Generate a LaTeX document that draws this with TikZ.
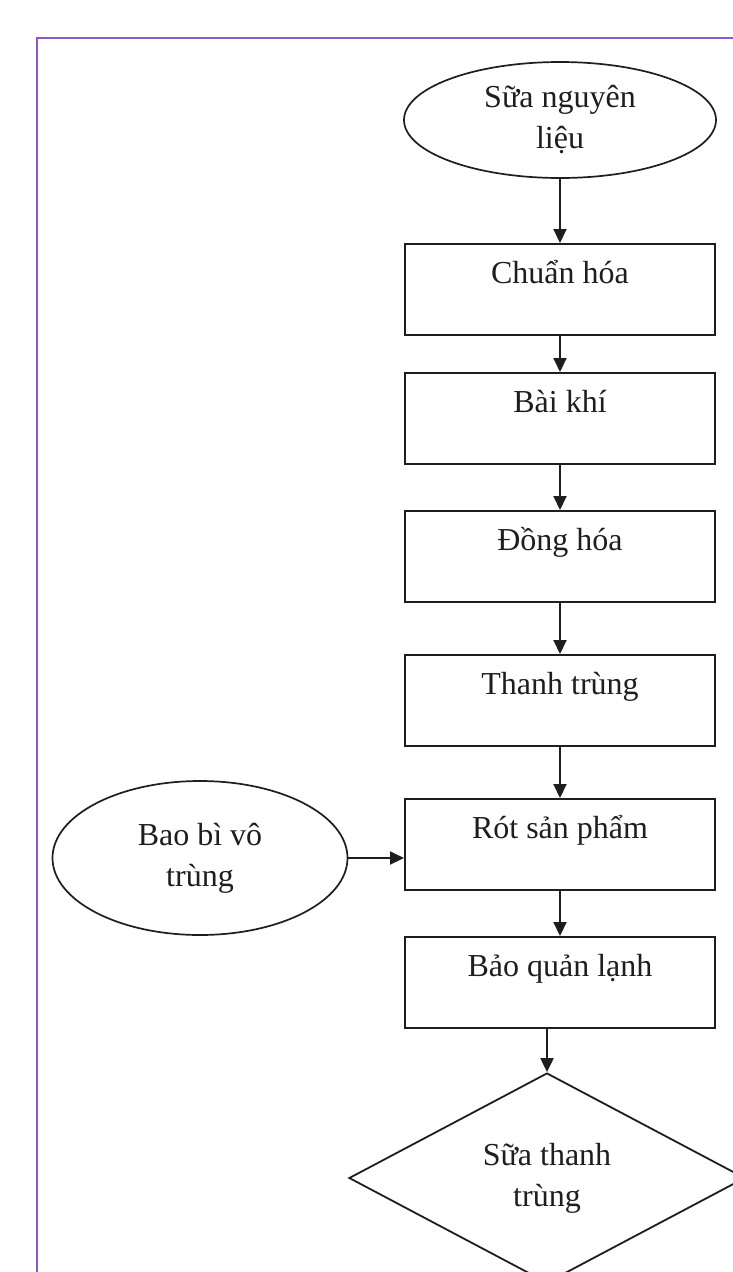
\documentclass[tikz,border=0pt]{standalone}
\usepackage{fontspec}
\setmainfont{Liberation Serif}
\usetikzlibrary{shapes.geometric,arrows.meta}
\definecolor{frame}{RGB}{145,85,205}
\definecolor{ink}{RGB}{30,30,30}
\tikzset{
  every node/.style={font=\fontsize{32}{41}\selectfont, text=ink},
  stepbox/.style={draw=ink, line width=2pt, rectangle, minimum width=310pt,
    text height=39pt, text depth=52pt, inner ysep=0pt, anchor=north},
  oval/.style={draw=ink, line width=1.7pt, ellipse, align=center, inner sep=0pt},
  flow/.style={draw=ink, line width=2pt, -{Triangle[length=14pt,width=13pt]}},
}
\begin{document}
\begin{tikzpicture}[x=1pt,y=-1pt]
\useasboundingbox (0,0) rectangle (733,1272);
\clip (0,0) rectangle (733,1272);
\fill[white] (0,0) rectangle (733,1272);
% frame
\coordinate (fb) at (37,1272);
\coordinate (fc) at (37,38);
\coordinate (fr) at (733,38);
\draw[frame, line width=2.4pt] (fb) -- (fc) -- (fr);
% nodes
\node[oval, minimum width=312pt, minimum height=116pt] (e1) at (560,120) {Sữa nguyên\\liệu};
\node[stepbox] (b1) at (560,243) {Chuẩn hóa};
\node[stepbox] (b2) at (560,372) {Bài khí};
\node[stepbox] (b3) at (560,510) {Đồng hóa};
\node[stepbox] (b4) at (560,654) {Thanh trùng};
\node[stepbox] (b5) at (560,798) {Rót sản phẩm};
\node[stepbox] (b6) at (560,936) {Bảo quản lạnh};
\node[oval, minimum width=295pt, minimum height=154pt] (e2) at (200,858) {Bao bì vô\\trùng};
\node[draw=ink, line width=1.8pt, diamond, minimum width=396pt, minimum height=210pt,
  align=center, inner sep=0pt] (d) at (547,1178) {Sữa thanh\\trùng};
% connectors
\draw[flow] (e1.south) -- (b1.north);
\draw[flow] (b1.south) -- (b2.north);
\draw[flow] (b2.south) -- (b3.north);
\draw[flow] (b3.south) -- (b4.north);
\draw[flow] (b4.south) -- (b5.north);
\draw[flow] (b5.south) -- (b6.north);
\draw[flow] (d.north |- b6.south) -- (d.north);
\draw[flow] (e2.east) -- (e2.east -| b5.west);
\end{tikzpicture}
\end{document}
